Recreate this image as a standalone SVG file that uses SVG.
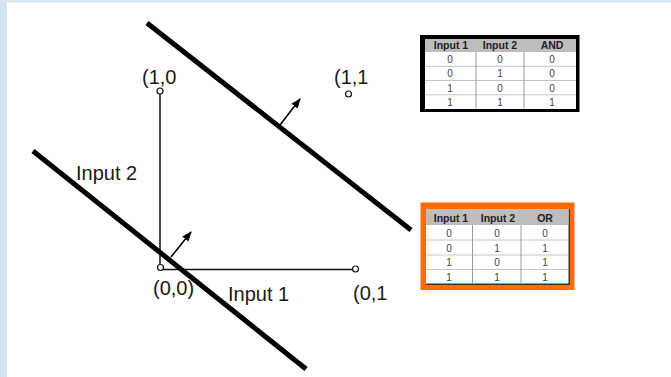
<svg xmlns="http://www.w3.org/2000/svg" width="671" height="377" viewBox="0 0 671 377">
  <style>
    .lbl { font-family: "Liberation Sans", Arial, sans-serif; font-size: 20px; fill: #1a1a1a; }
    .hdr { font-family: "Liberation Sans", Arial, sans-serif; font-size: 10.5px; font-weight: bold; fill: #222; text-anchor: middle; }
    .cell { font-family: "Liberation Sans", Arial, sans-serif; font-size: 10px; fill: #444; text-anchor: middle; }
    .sep { stroke: #c4c4c4; stroke-width: 1; }
    .vsep { stroke: #9a9a9a; stroke-width: 1; }
    .boundary { stroke: #000; stroke-width: 5; stroke-linecap: butt; fill: none; }
    .axis { stroke: #111; stroke-width: 1.5; fill: none; }
    .pt { fill: #fff; stroke: #111; stroke-width: 1.2; }
    .arrow { stroke: #000; stroke-width: 1.6; fill: none; marker-end: url(#ah); }
  </style>
  <defs>
    <marker id="ah" viewBox="0 0 10 8" refX="9" refY="4" markerWidth="10" markerHeight="8" markerUnits="userSpaceOnUse" orient="auto">
      <path d="M0,0 L10,4 L0,8 Z" fill="#000"/>
    </marker>
  </defs>

  <g id="background">
    <rect x="0" y="0" width="671" height="377" fill="#fff"/>
    <rect x="0" y="0" width="7" height="377" fill="#d3e3f2"/>
    <rect x="0" y="0" width="671" height="2.5" fill="#d8e6f4"/>
  </g>

  <g id="connectors">
    <line class="axis" x1="160" y1="94" x2="160" y2="267"/>
    <line class="axis" x1="163" y1="269.5" x2="352.5" y2="269.5"/>
    <line class="arrow" x1="280" y1="125" x2="300" y2="99"/>
    <line class="arrow" x1="171" y1="257" x2="191" y2="232"/>
  </g>

  <g id="and-boundary">
    <line class="boundary" x1="147" y1="23" x2="411" y2="230"/>
  </g>
  <g id="or-boundary">
    <line class="boundary" x1="33" y1="151" x2="306" y2="369"/>
  </g>

  <g id="point-10">
    <circle class="pt" cx="160" cy="91" r="3"/>
    <text class="lbl" x="142" y="84">(1,0</text>
  </g>
  <g id="point-11">
    <circle class="pt" cx="348.5" cy="94" r="3"/>
    <text class="lbl" x="334" y="84">(1,1</text>
  </g>
  <g id="point-00">
    <circle class="pt" cx="160.5" cy="267.5" r="3"/>
    <text class="lbl" x="153" y="295">(0,0)</text>
  </g>
  <g id="point-01">
    <circle class="pt" cx="355.5" cy="269" r="3"/>
    <text class="lbl" x="353" y="300">(0,1</text>
  </g>
  <g id="label-input2">
    <text class="lbl" x="76" y="180">Input 2</text>
  </g>
  <g id="label-input1">
    <text class="lbl" x="228" y="301">Input 1</text>
  </g>

  <g id="and-table">
    <rect x="420" y="35" width="159.5" height="77" fill="#000"/>
    <rect x="425" y="39" width="151" height="70" fill="#fff"/>
    <rect x="425" y="39" width="151" height="13" fill="#bdbdbd"/>
    <line class="sep" x1="425" y1="66.3" x2="576" y2="66.3"/>
    <line class="sep" x1="425" y1="80.5" x2="576" y2="80.5"/>
    <line class="sep" x1="425" y1="94.8" x2="576" y2="94.8"/>
    <line class="vsep" x1="476" y1="52" x2="476" y2="109"/>
    <line class="vsep" x1="524" y1="52" x2="524" y2="109"/>
    <text class="hdr" x="451" y="49">Input 1</text>
    <text class="hdr" x="500" y="49">Input 2</text>
    <text class="hdr" x="552" y="49">AND</text>
    <text class="cell" x="450" y="63">0</text><text class="cell" x="500" y="63">0</text><text class="cell" x="552" y="63">0</text>
    <text class="cell" x="450" y="77">0</text><text class="cell" x="500" y="77">1</text><text class="cell" x="552" y="77">0</text>
    <text class="cell" x="450" y="91.5">1</text><text class="cell" x="500" y="91.5">0</text><text class="cell" x="552" y="91.5">0</text>
    <text class="cell" x="450" y="105.5">1</text><text class="cell" x="500" y="105.5">1</text><text class="cell" x="552" y="105.5">1</text>
  </g>

  <g id="or-table">
    <rect x="420.5" y="202.5" width="154" height="87.5" fill="#ff6a0a"/>
    <rect x="426" y="209" width="144" height="76" fill="#333"/>
    <rect x="426" y="209" width="142.5" height="74.5" fill="#fff"/>
    <rect x="426" y="209" width="142.5" height="16" fill="#bdbdbd"/>
    <line class="sep" x1="426" y1="240" x2="568.5" y2="240"/>
    <line class="sep" x1="426" y1="255" x2="568.5" y2="255"/>
    <line class="sep" x1="426" y1="269.5" x2="568.5" y2="269.5"/>
    <line class="vsep" x1="472.5" y1="225" x2="472.5" y2="283.5"/>
    <line class="vsep" x1="521" y1="225" x2="521" y2="283.5"/>
    <text class="hdr" x="451" y="221.5">Input 1</text>
    <text class="hdr" x="498" y="221.5">Input 2</text>
    <text class="hdr" x="545" y="221.5">OR</text>
    <text class="cell" x="449" y="236.5">0</text><text class="cell" x="497" y="236.5">0</text><text class="cell" x="545" y="236.5">0</text>
    <text class="cell" x="449" y="251.5">0</text><text class="cell" x="497" y="251.5">1</text><text class="cell" x="545" y="251.5">1</text>
    <text class="cell" x="449" y="265.5">1</text><text class="cell" x="497" y="265.5">0</text><text class="cell" x="545" y="265.5">1</text>
    <text class="cell" x="449" y="280.5">1</text><text class="cell" x="497" y="280.5">1</text><text class="cell" x="545" y="280.5">1</text>
  </g>
</svg>
